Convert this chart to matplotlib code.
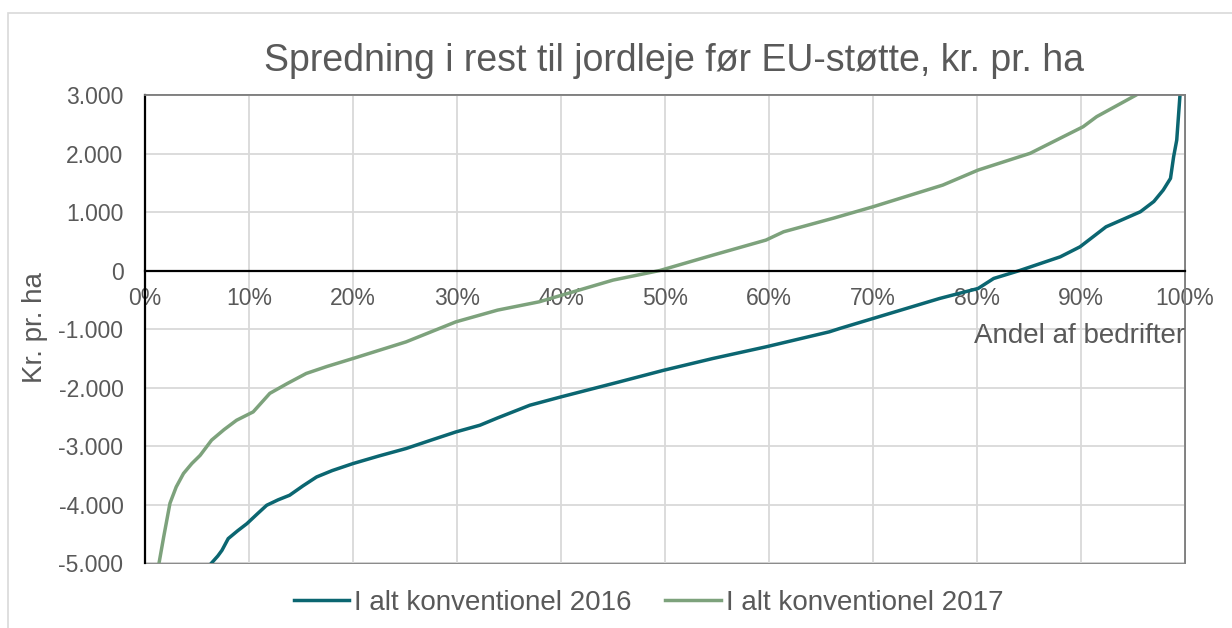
import matplotlib
matplotlib.use("Agg")
import matplotlib.pyplot as plt
from matplotlib.ticker import FuncFormatter
from matplotlib.patches import Rectangle

# Data (share of farms, kr. per ha)
share_2016 = [0.064, 0.070, 0.074, 0.080, 0.089, 0.098, 0.108, 0.117, 0.128, 0.139, 0.152, 0.165,
              0.180, 0.200, 0.225, 0.251, 0.275, 0.299, 0.322, 0.339, 0.370, 0.400, 0.456, 0.499,
              0.546, 0.597, 0.658, 0.668, 0.700, 0.764, 0.801, 0.816, 0.841, 0.880, 0.899, 0.924,
              0.957, 0.970, 0.979, 0.986, 0.989, 0.992, 0.995, 0.997]
value_2016 = [-5000, -4880, -4783, -4583, -4450, -4327, -4160, -4013, -3920, -3842, -3680, -3529,
              -3420, -3300, -3170, -3043, -2900, -2759, -2645, -2520, -2303, -2160, -1904, -1704,
              -1504, -1305, -1048, -991, -820, -478, -307, -136, 0, 234, 405, 747,
              1004, 1180, 1375, 1575, 1945, 2230, 2970, 3400]

share_2017 = [0.0135, 0.018, 0.024, 0.030, 0.037, 0.045, 0.053, 0.064, 0.076, 0.088, 0.104, 0.120,
              0.137, 0.155, 0.175, 0.200, 0.251, 0.299, 0.339, 0.379, 0.450, 0.495, 0.546, 0.597,
              0.614, 0.663, 0.700, 0.767, 0.801, 0.851, 0.902, 0.915, 0.953, 0.960]
value_2017 = [-5000, -4550, -3979, -3700, -3470, -3300, -3160, -2900, -2720, -2560, -2417, -2100,
              -1930, -1760, -1640, -1504, -1220, -877, -677, -535, -164, 0, 263, 520,
              662, 900, 1090, 1460, 1717, 2003, 2458, 2630, 3000, 3080]

labels = ["I alt konventionel 2016", "I alt konventionel 2017"]
title = "Spredning i rest til jordleje før EU-støtte, kr. pr. ha"
xlabel = "Andel af bedrifter"
ylabel = "Kr. pr. ha"
x_ticks = [i / 10 for i in range(11)]
y_ticks = list(range(-5000, 3001, 1000))

TEAL = "#0b6671"
GREEN = "#7da27c"
TXT = "#595959"
GRID = "#d9d9d9"

plt.rcParams['font.family'] = ['Liberation Sans', 'DejaVu Sans']

fig = plt.figure(figsize=(12.32, 6.28), dpi=100)
fig.patches.append(Rectangle((0.0065, -0.01), 1.0, 0.989, transform=fig.transFigure,
                             fill=False, edgecolor="#d9d9d9", linewidth=1.2))
ax = fig.add_axes([0.1177, 0.1035, 0.8442, 0.7452])

ax.plot(share_2016, value_2016, color=TEAL, lw=2.5, label=labels[0], solid_joinstyle='round')
ax.plot(share_2017, value_2017, color=GREEN, lw=2.5, label=labels[1], solid_joinstyle='round')

ax.set_xlim(0, 1)
ax.set_ylim(-5000, 3000)
ax.set_xticks(x_ticks)
ax.set_yticks(y_ticks)
ax.xaxis.set_major_formatter(FuncFormatter(lambda v, p: f"{round(v*100)}%"))
ax.yaxis.set_major_formatter(FuncFormatter(lambda v, p: f"{int(v):,}".replace(",", ".")))
ax.grid(True, color=GRID, lw=1.3)
ax.set_axisbelow(True)

ax.spines['bottom'].set_position(('data', 0))
ax.spines['bottom'].set_color('black')
ax.spines['bottom'].set_linewidth(1.6)
ax.spines['left'].set_color('black')
ax.spines['left'].set_linewidth(1.6)
for s in ('top', 'right'):
    ax.spines[s].set_color('#808080')
    ax.spines[s].set_linewidth(1.3)
ax.add_patch(Rectangle((0, 0), 1, 1, transform=ax.transAxes, fill=False,
                       edgecolor='#808080', lw=1.3, zorder=0.5, clip_on=False))

ax.tick_params(axis='x', length=0, pad=12, labelsize=16.5, labelcolor=TXT)
ax.tick_params(axis='y', length=0, pad=15.5, labelsize=16.5, labelcolor=TXT)

ax.text(1.0, -1242, xlabel, ha='right', va='baseline', fontsize=20, color=TXT,
        transform=ax.get_yaxis_transform())
fig.text(0.0284, 0.4785, ylabel, rotation=90, ha='center', va='center', fontsize=20, color=TXT)
fig.text(0.547, 0.887, title, ha='center', va='baseline', fontsize=27, color=TXT)

leg = fig.legend(loc='center', bbox_to_anchor=(0.5264, 0.04), ncol=2, frameon=False,
                 fontsize=20, handlelength=2.0, handletextpad=0.18, columnspacing=1.2,
                 borderpad=0.2)
for t in leg.get_texts():
    t.set_color(TXT)

fig.savefig("out.png", dpi=100)
